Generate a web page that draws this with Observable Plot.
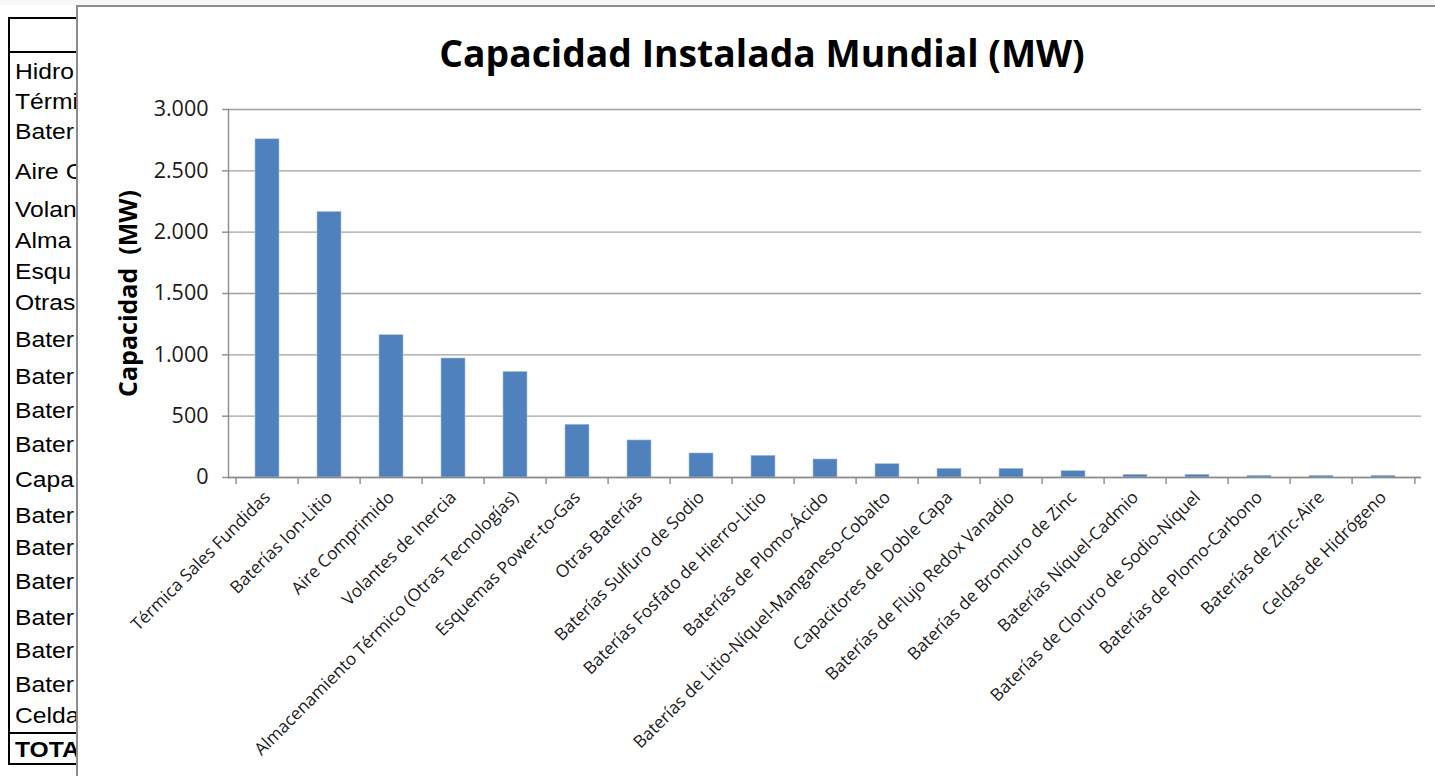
<!DOCTYPE html>
<html>
<head>
<meta charset="utf-8">
<script src="https://cdn.jsdelivr.net/npm/d3@7"></script>
<script src="https://cdn.jsdelivr.net/npm/@observablehq/plot@0.6"></script>
<style>
  html, body { margin: 0; padding: 0; background: #ffffff; width: 1435px; height: 776px; overflow: hidden; }
  #topstrip { position: absolute; left: 0; top: 0; width: 1435px; height: 5px; background: #f6f8f8; }
  #table { position: absolute; left: 8px; top: 17px; width: 120px; height: 748px; border: 2px solid #000; box-sizing: border-box; font-family: "Liberation Sans", Arial, sans-serif; font-size: 22px; color: #000; }
  #table .hdr { position: absolute; left: 0; top: 32px; width: 100%; border-top: 2px solid #000; }
  #table .row { position: absolute; left: 5px; line-height: 26px; white-space: nowrap; transform: scaleX(1.12); transform-origin: left center; }
  #table .tot { position: absolute; left: 0; width: 100%; border-top: 2px solid #000; }
  #chartbox { position: absolute; left: 76px; top: 5px; width: 1400px; height: 800px; background: #fff; border-left: 2px solid #8c8c8c; border-top: 2px solid #8c8c8c; }
  #title { position: absolute; left: 0; top: 21px; width: 1368px; text-align: center; font-family: "Open Sans", Lato, sans-serif; font-weight: bold; font-size: 37.3px; line-height: 50px; color: #000; white-space: nowrap; }
  #plot { position: absolute; left: 0; top: 0; }
</style>
</head>
<body>
<div id="topstrip"></div>
<div id="table"></div>
<div id="chartbox">
  <div id="title"></div>
  <div id="plot"></div>
</div>
<script>
const title = "Capacidad Instalada Mundial (MW)";
const yLabel = "Capacidad  (MW)";
const categories = [
  "Térmica Sales Fundidas",
  "Baterías Ion-Litio",
  "Aire Comprimido",
  "Volantes de Inercia",
  "Almacenamiento Térmico (Otras Tecnologías)",
  "Esquemas Power-to-Gas",
  "Otras Baterías",
  "Baterías Sulfuro de Sodio",
  "Baterías Fosfato de Hierro-Litio",
  "Baterías de Plomo-Ácido",
  "Baterías de Litio-Níquel-Manganeso-Cobalto",
  "Capacitores de Doble Capa",
  "Baterías de Flujo Redox Vanadio",
  "Baterías de Bromuro de Zinc",
  "Baterías Níquel-Cadmio",
  "Baterías de Cloruro de Sodio-Níquel",
  "Baterías de Plomo-Carbono",
  "Baterías de Zinc-Aire",
  "Celdas de Hidrógeno"
];
const values = [2757, 2164, 1160, 970, 860, 430, 302, 196, 177, 147, 109, 71, 71, 52, 22, 22, 14, 14, 14];
const yTicks = [0, 500, 1000, 1500, 2000, 2500, 3000];
const tableRows = ["Hidro", "Térmi", "Bater", "Aire C", "Volan", "Alma", "Esqu", "Otras", "Bater", "Bater", "Bater", "Bater", "Capa", "Bater", "Bater", "Bater", "Bater", "Bater", "Bater", "Celda", "TOTA"];
const tableRowCenters = [72, 102, 132, 172, 210, 241, 272, 303, 340, 377, 411, 445, 480, 516, 548, 582, 618, 651, 685, 716, 750];

// background spreadsheet table (partly hidden behind the chart)
const tbl = document.getElementById("table");
const hdr = document.createElement("div"); hdr.className = "hdr"; tbl.appendChild(hdr);
tableRows.forEach((t, i) => {
  const d = document.createElement("div");
  d.className = "row";
  d.textContent = t;
  d.style.top = (tableRowCenters[i] - 17 - 2 - 13) + "px";
  if (i === tableRows.length - 1) d.style.fontWeight = "bold";
  tbl.appendChild(d);
});
const tot = document.createElement("div"); tot.className = "tot"; tot.style.top = (732 - 19) + "px"; tbl.appendChild(tot);

document.getElementById("title").textContent = title;

const data = categories.map((c, i) => ({cat: c, val: values[i]}));
const locale = d3.formatLocale({decimal: ",", thousands: ".", grouping: [3], currency: ["", ""]});
const fmt = locale.format(",");

const W = 1357, H = 769;
const mL = 150, mR = 14, mT = 102, mB = 299;
const step = (W - mL - mR) / categories.length;
const axisGray = "#8c8c8c";

const chart = Plot.plot({
  width: W,
  height: H,
  marginLeft: mL,
  marginRight: mR,
  marginTop: mT,
  marginBottom: mB,
  style: {fontFamily: "'Open Sans', Lato, sans-serif", background: "transparent", color: "#000"},
  x: {domain: categories, paddingInner: 0.62, paddingOuter: 0.31, align: 0.5, label: null},
  y: {domain: [0, 3000], label: null},
  marks: [
    Plot.gridY(yTicks, {stroke: "#a0a0a0", strokeOpacity: 1, strokeWidth: 1.4}),
    Plot.barY(data, {x: "cat", y: "val", fill: "#4f81bd", stroke: "#a9c2e0", strokeWidth: 0.6}),
    Plot.ruleY([0], {stroke: axisGray, strokeWidth: 1.4}),
    Plot.axisY(yTicks, {tickFormat: fmt, tickSize: 6, tickPadding: 14, fontSize: 21.5, stroke: axisGray, fill: "#1a1a1a", strokeWidth: 1.4}),
    Plot.frame({anchor: "left", stroke: axisGray, strokeWidth: 1.4}),
    Plot.ruleX(categories, {x: d => d, y1: 0, y2: 0, dx: -step / 2, insetBottom: -7, stroke: axisGray, strokeWidth: 1.4}),
    Plot.ruleX(categories.slice(-1), {x: d => d, y1: 0, y2: 0, dx: step / 2, insetBottom: -7, stroke: axisGray, strokeWidth: 1.4}),
    Plot.axisX({tickRotate: -45, tickSize: 0, tickPadding: 17, fontSize: 17.3, fill: "#1a1a1a"}),
    Plot.text([yLabel], {frameAnchor: "left", textAnchor: "middle", dx: -100, rotate: -90, fontWeight: "bold", fontSize: 25, fill: "#000"})
  ]
});
document.getElementById("plot").appendChild(chart);
</script>
</body>
</html>
